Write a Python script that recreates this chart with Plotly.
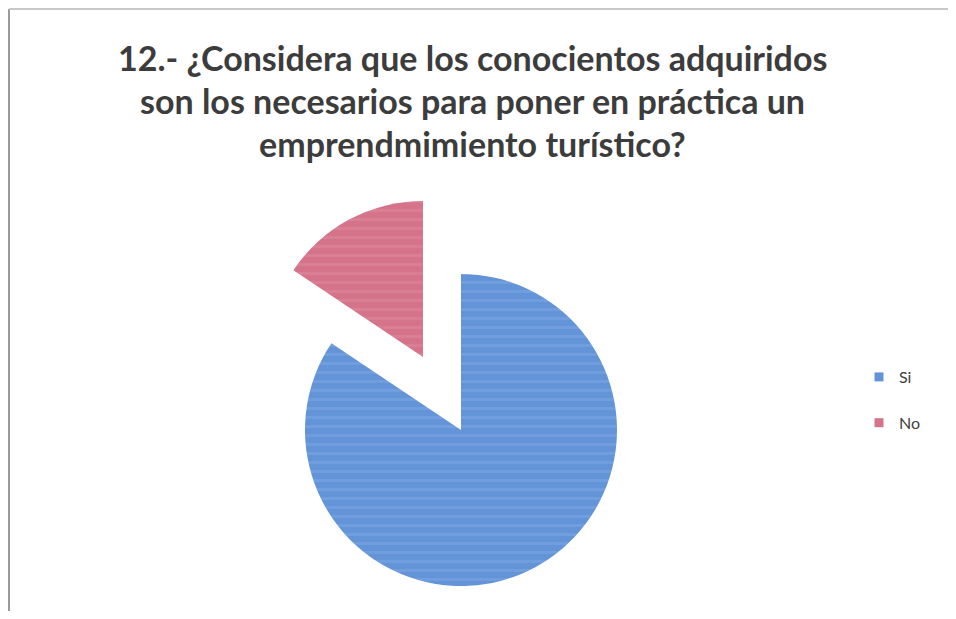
import plotly.graph_objects as go

categories = ["Si", "No"]
values = [84.4, 15.6]
colors = ["#6494d8", "#d5738a"]
title_lines = [
    "12.- ¿Considera que los conocientos adquiridos",
    "son los necesarios para poner en práctica un",
    "emprendmimiento turístico?",
]

OFF = 8  # page body margin
W, H = 956 - 2 * OFF, 619 - 2 * OFF
R = 156
center_main = (461 - OFF, 430 - OFF)
center_pull = (423 - OFF, 357 - OFF)


def px(x):
    return (x - OFF) / W


def py(y):
    return 1 - (y - OFF) / H


def dom(cx, cy):
    return dict(x=[(cx - R) / W, (cx + R) / W], y=[1 - (cy + R) / H, 1 - (cy - R) / H])


fig = go.Figure()
# Main pie (Si visible)
fig.add_trace(go.Pie(
    labels=categories, values=values, sort=False, direction="clockwise", rotation=0,
    marker=dict(colors=[colors[0], "rgba(0,0,0,0)"], line=dict(width=0),
                pattern=dict(shape=["-", ""], fillmode="overlay", fgcolor="#7ea9e4",
                             fgopacity=0.5, size=9, solidity=0.3)),
    textinfo="none", hoverinfo="label+percent", showlegend=False,
    domain=dom(*center_main),
))
# Exploded slice (No visible)
fig.add_trace(go.Pie(
    labels=categories, values=values, sort=False, direction="clockwise", rotation=0,
    marker=dict(colors=["rgba(0,0,0,0)", colors[1]], line=dict(width=0),
                pattern=dict(shape=["", "-"], fillmode="overlay", fgcolor="#e08c9e",
                             fgopacity=0.5, size=9, solidity=0.3)),
    textinfo="none", hoverinfo="label+percent", showlegend=False,
    domain=dom(*center_pull),
))
# Legend entries
for c, col in zip(categories, colors):
    fig.add_trace(go.Scatter(
        x=[None], y=[None], mode="markers", name=c, legendgroup=c,
        marker=dict(symbol="square", size=9, color=col),
    ))

title_y = [58, 101, 143]
for line, yy in zip(title_lines, title_y):
    fig.add_annotation(
        text=line, x=px(472), y=py(yy), xref="paper", yref="paper",
        xanchor="center", yanchor="middle", showarrow=False,
        font=dict(family="Lato", size=34, color="#3c3c3c", weight="bold"),
    )

fig.update_layout(
    width=W, height=H, margin=dict(l=0, r=0, t=0, b=0),
    paper_bgcolor="white", plot_bgcolor="white",
    xaxis=dict(visible=False), yaxis=dict(visible=False),
    legend=dict(x=px(859), y=py(360), xanchor="left", yanchor="top",
                font=dict(family="Lato", size=16, color="#404040"),
                traceorder="grouped", tracegroupgap=22, itemwidth=30),
    shapes=[
        dict(type="line", xref="paper", yref="paper", x0=px(9), x1=px(9), y0=0, y1=py(9),
             line=dict(color="#9a9a9a", width=2)),
        dict(type="line", xref="paper", yref="paper", x0=px(9), x1=1, y0=py(9), y1=py(9),
             line=dict(color="#c8c8c8", width=2)),
    ],
)

fig.write_html("out.html")
